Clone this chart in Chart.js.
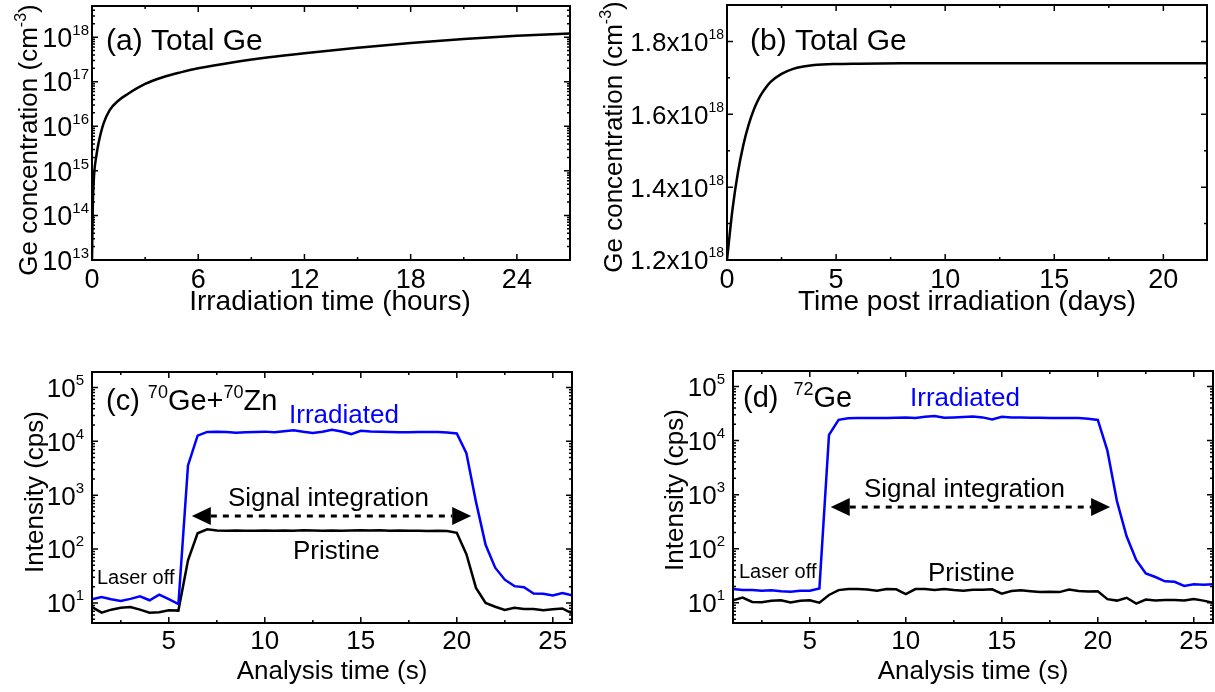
<!DOCTYPE html>
<html>
<head>
<meta charset="utf-8">
<title>Ge concentration and LA-ICP-MS signals</title>
<script src="https://cdn.jsdelivr.net/npm/chart.js@4.4.1/dist/chart.umd.min.js"></script>
<style>
    body { margin: 0; background: #fff; }
    .panel { position: absolute; left: 0; top: 0; width: 1215px; height: 692px; }
</style>
</head>
<body>
<div class="panel"><canvas id="chartA"></canvas></div>
<div class="panel"><canvas id="chartB"></canvas></div>
<div class="panel"><canvas id="chartC"></canvas></div>
<div class="panel"><canvas id="chartD"></canvas></div>
<script>
// (a) total Ge during irradiation
const irradHours = [0, 0.05, 0.1, 0.14, 0.24, 0.37, 0.65, 1, 1.5, 2, 3, 4, 5, 6, 8, 10, 12, 15, 18, 21, 24, 27];
const geDuringIrrad = [1e13, 2e14, 6e14, 1.05e15, 2.1e15, 4.2e15, 1.15e16, 2.3e16, 3.8e16, 5.25e16, 8.9e16, 1.26e17,
    1.62e17, 2.0e17, 2.75e17, 3.55e17, 4.37e17, 5.75e17, 7.41e17, 9.12e17, 1.07e18, 1.2e18];

// (b) total Ge after irradiation
const postDays = [0, 0.25, 0.5, 0.75, 1, 1.25, 1.5, 1.75, 2, 2.5, 3, 3.5, 4, 5, 6, 8, 12, 16, 22];
const geAfterIrrad = [1.2e18, 1.338e18, 1.44e18, 1.516e18, 1.573e18, 1.616e18, 1.648e18, 1.671e18, 1.689e18, 1.711e18,
    1.724e18, 1.731e18, 1.735e18, 1.738e18, 1.739e18, 1.74e18, 1.74e18, 1.74e18, 1.74e18];

// (c), (d) analysis time (s)
const analysisTime = [1, 1.5, 2, 2.5, 3, 3.5, 4, 4.5, 5, 5.5, 6, 6.5, 7, 7.5, 8, 8.5, 9, 9.5, 10, 10.5, 11, 11.5, 12,
    12.5, 13, 13.5, 14, 14.5, 15, 15.5, 16, 16.5, 17, 17.5, 18, 18.5, 19, 19.5, 20, 20.5, 21, 21.5, 22, 22.5, 23,
    23.5, 24, 24.5, 25, 25.5, 26];

// (c) 70Ge + 70Zn
const ge70Irradiated = [11.7, 12.9, 11.7, 10.9, 11.9, 13.3, 11.2, 14.3, 11.7, 9.5, 3560, 12700, 14900, 15000, 14800,
    14400, 14700, 14900, 15100, 14700, 15300, 16000, 15000, 14300, 15000, 16400, 15200, 13600, 15600, 15200, 15000,
    14800, 14700, 14700, 14800, 14900, 14900, 14500, 14000, 6000, 750, 120, 45, 27, 20.5, 19.5, 15, 14.8, 13.7, 15.2, 13.8];
const ge70Pristine = [8.4, 6.6, 7.5, 8.1, 8.4, 7.5, 6.6, 6.7, 7.3, 7.2, 62, 196, 233, 220, 218, 220, 219, 218, 220,
    218, 221, 219, 222, 220, 218, 221, 219, 220, 222, 220, 222, 219, 221, 219, 218, 217, 218, 216, 200, 80, 19, 10,
    8.5, 7.4, 8.1, 7.7, 7.7, 7.3, 7.6, 7.9, 6.4];

// (d) 72Ge
const ge72Irradiated = [18, 17.3, 17.3, 16.7, 17, 16.4, 16, 16.7, 16.7, 18.5, 12700, 24200, 25900, 26200, 26100, 26000,
    26100, 26300, 26600, 26200, 27500, 28500, 26500, 26800, 27300, 27800, 26800, 24500, 27400, 26700, 26800, 26500,
    26300, 26200, 26000, 26200, 26000, 25300, 24000, 6500, 750, 170, 62, 35, 30, 25, 24.5, 20.5, 22, 21.5, 22];
const ge72Pristine = [11.2, 12.5, 10.4, 10.3, 10.9, 11.2, 10.2, 10.9, 11.2, 10.1, 14, 17.2, 18, 18, 17.6, 16.7, 18,
    17.8, 14.5, 18, 18, 17.3, 18, 17.2, 16.8, 17.5, 17.4, 17.8, 14.8, 16.6, 17, 16.4, 15.8, 16, 15.8, 17.6, 16.5,
    16.2, 16.3, 11.7, 11, 12.4, 9.7, 11.5, 11, 11.3, 11.3, 11, 11.8, 11, 10];

// Tick values
const hourTicks = [0, 6, 12, 18, 24];
const hourMinor = [3, 9, 15, 21];
const dayTicks = [0, 5, 10, 15, 20];
const dayMinor = [2.5, 7.5, 12.5, 17.5];
const concTicks = [1.2e18, 1.4e18, 1.6e18, 1.8e18];
const concMinor = [1.3e18, 1.5e18, 1.7e18];
const secTicks = [5, 10, 15, 20, 25];
const secMinor = [2.5, 7.5, 12.5, 17.5, 22.5];

const W = 1215, H = 692;
const FONT = "'Liberation Sans', Arial, Helvetica, sans-serif";
const BLUE = '#0000ff';
const font = size => `${size}px ${FONT}`;

// log minor ticks (2..9 x 10^n) inside [min, max]
function logMinor(min, max) {
    const out = [];
    for (let e = Math.floor(Math.log10(min)); e <= Math.ceil(Math.log10(max)); e++) {
        for (let m = 2; m <= 9; m++) {
            const v = m * Math.pow(10, e);
            if (v > min && v < max) out.push(v);
        }
    }
    return out;
}
function powers(lo, hi) {
    const out = [];
    for (let e = lo; e <= hi; e++) out.push(Math.pow(10, e));
    return out;
}

// text runs with superscripts
function runsWidth(ctx, runs) {
    let w = 0;
    runs.forEach(r => {
        ctx.font = font(r.size);
        w += ctx.measureText(r.text).width + (r.dx || 0);
    });
    return w;
}
function drawRuns(ctx, runs, x, y, align) {
    const w = runsWidth(ctx, runs);
    let cx = align === 'right' ? x - w : align === 'center' ? x - w / 2 : x;
    ctx.textAlign = 'left';
    ctx.textBaseline = 'alphabetic';
    runs.forEach(r => {
        ctx.font = font(r.size);
        ctx.fillStyle = r.color || '#000';
        cx += r.dx || 0;
        ctx.fillText(r.text, cx, y - (r.rise || 0));
        cx += ctx.measureText(r.text).width;
    });
}
const pow10Label = (mant, exp, size, expSize) => [
    { text: mant + '10', size: size },
    { text: String(exp), size: expSize, rise: Math.round(size * 0.45) }
];

function drawArrow(ctx, x1, x2, y) {
    const head = 19, half = 9;
    ctx.save();
    ctx.strokeStyle = '#000';
    ctx.fillStyle = '#000';
    ctx.lineWidth = 3;
    ctx.setLineDash([6, 6]);
    ctx.beginPath();
    ctx.moveTo(x1 + head, y);
    ctx.lineTo(x2 - head, y);
    ctx.stroke();
    ctx.setLineDash([]);
    ctx.beginPath();
    ctx.moveTo(x1, y); ctx.lineTo(x1 + head, y - half); ctx.lineTo(x1 + head, y + half); ctx.closePath();
    ctx.moveTo(x2, y); ctx.lineTo(x2 - head, y - half); ctx.lineTo(x2 - head, y + half); ctx.closePath();
    ctx.fill();
    ctx.restore();
}

// MATLAB style box axes: inward ticks on all sides, labels, titles, notes
function framePlugin(cfg) {
    return {
        id: 'frame',
        afterDraw(chart) {
            const ctx = chart.ctx;
            const xs = chart.scales.x, ys = chart.scales.y;
            const { left, top, right, bottom } = chart.chartArea;
            ctx.save();
            ctx.strokeStyle = '#000';
            ctx.lineWidth = 1.5;
            ctx.beginPath();
            const xTick = (v, len) => {
                const px = xs.getPixelForValue(v);
                ctx.moveTo(px, bottom); ctx.lineTo(px, bottom - len);
                ctx.moveTo(px, top); ctx.lineTo(px, top + len);
            };
            const yTick = (v, len) => {
                const py = ys.getPixelForValue(v);
                ctx.moveTo(left, py); ctx.lineTo(left + len, py);
                ctx.moveTo(right, py); ctx.lineTo(right - len, py);
            };
            cfg.xMajor.forEach(v => xTick(v, 6));
            cfg.xMinor.forEach(v => xTick(v, 3));
            cfg.yMajor.forEach(v => yTick(v, 6));
            cfg.yMinor.forEach(v => yTick(v, 3));
            ctx.stroke();
            ctx.lineWidth = 2;
            ctx.strokeRect(left, top, right - left, bottom - top);

            // tick labels
            ctx.fillStyle = '#000';
            cfg.xMajor.forEach(v => {
                drawRuns(ctx, [{ text: String(v), size: cfg.tickSize }], xs.getPixelForValue(v), cfg.xLabelY, 'center');
            });
            cfg.yMajor.forEach(v => {
                const py = ys.getPixelForValue(v);
                drawRuns(ctx, cfg.yLabel(v), left - cfg.yLabelGap, py + cfg.yTickSize * 0.36, 'right');
            });

            // axis titles
            drawRuns(ctx, [{ text: cfg.xTitle, size: cfg.titleSize }], cfg.xTitleX, cfg.xTitleY, 'center');
            ctx.save();
            ctx.translate(cfg.yTitleX, cfg.yTitleY);
            ctx.rotate(-Math.PI / 2);
            drawRuns(ctx, cfg.yTitle, 0, 0, 'center');
            ctx.restore();

            // annotations
            (cfg.notes || []).forEach(n => drawRuns(ctx, n.runs, n.x, n.y, 'left'));
            if (cfg.arrow) {
                const a = cfg.arrow;
                drawArrow(ctx, xs.getPixelForValue(a.from), xs.getPixelForValue(a.to), ys.getPixelForValue(a.at));
            }
            ctx.restore();
        }
    };
}

function makeChart(id, box, xScale, yScale, datasets, frame) {
    return new Chart(document.getElementById(id), {
        type: 'line',
        data: { datasets: datasets },
        options: {
            responsive: true,
            maintainAspectRatio: false,
            animation: false,
            events: [],
            layout: { padding: { left: box.l, top: box.t, right: W - box.r, bottom: H - box.b } },
            plugins: { legend: { display: false }, tooltip: { enabled: false } },
            scales: {
                x: Object.assign({ type: 'linear', display: false }, xScale),
                y: Object.assign({ display: false }, yScale)
            }
        },
        plugins: [framePlugin(frame)]
    });
}

const series = (xs, ys, color, smooth) => ({
    data: xs.map((x, i) => ({ x: x, y: ys[i] })),
    borderColor: color,
    borderWidth: 2.5,
    pointRadius: 0,
    fill: false,
    tension: 0,
    cubicInterpolationMode: smooth ? 'monotone' : 'default'
});

const concTitle = [
    { text: 'Ge concentration (cm', size: 26 },
    { text: '-3', size: 16, rise: 11 },
    { text: ')', size: 26 }
];

// (a)
makeChart('chartA', { l: 92, t: 6, r: 570, b: 260 },
    { min: 0, max: 27 },
    { type: 'logarithmic', min: 1e13, max: 5e18 },
    [series(irradHours, geDuringIrrad, '#000', true)],
    {
        xMajor: hourTicks, xMinor: hourMinor,
        yMajor: powers(13, 18), yMinor: logMinor(1e13, 5e18),
        tickSize: 27, yTickSize: 27, xLabelY: 288, yLabelGap: 3,
        yLabel: v => pow10Label('', Math.round(Math.log10(v)), 27, 15),
        titleSize: 28, xTitle: 'Irradiation time (hours)', xTitleX: 330, xTitleY: 310,
        yTitle: concTitle, yTitleX: 37, yTitleY: 140,
        notes: [{ runs: [{ text: '(a) Total Ge', size: 30 }], x: 106, y: 50 }]
    });

// (b)
makeChart('chartB', { l: 727, t: 5, r: 1207, b: 260 },
    { min: 0, max: 22 },
    { type: 'linear', min: 1.2e18, max: 1.9e18 },
    [series(postDays, geAfterIrrad, '#000', true)],
    {
        xMajor: dayTicks, xMinor: dayMinor,
        yMajor: concTicks, yMinor: concMinor,
        tickSize: 27, yTickSize: 26, xLabelY: 288, yLabelGap: 3,
        yLabel: v => pow10Label((v / 1e18).toFixed(1) + 'x', 18, 26, 14),
        titleSize: 28, xTitle: 'Time post irradiation (days)', xTitleX: 967, xTitleY: 310,
        yTitle: concTitle, yTitleX: 622, yTitleY: 137,
        notes: [{ runs: [{ text: '(b) Total Ge', size: 30 }], x: 750, y: 50 }]
    });

// (c)
makeChart('chartC', { l: 92, t: 372, r: 572, b: 623 },
    { min: 1, max: 26 },
    { type: 'logarithmic', min: 4.24, max: 1.93e5 },
    [series(analysisTime, ge70Irradiated, BLUE, false), series(analysisTime, ge70Pristine, '#000', false)],
    {
        xMajor: secTicks, xMinor: secMinor,
        yMajor: powers(1, 5), yMinor: logMinor(4.24, 1.93e5),
        tickSize: 26, yTickSize: 26, xLabelY: 649, yLabelGap: 8,
        yLabel: v => pow10Label('', Math.round(Math.log10(v)), 26, 15),
        titleSize: 26, xTitle: 'Analysis time (s)', xTitleX: 332, xTitleY: 679,
        yTitle: [{ text: 'Intensity (cps)', size: 26 }], yTitleX: 43, yTitleY: 492,
        notes: [
            { runs: [{ text: '(c) ', size: 29 }, { text: '70', size: 18, rise: 12 }, { text: 'Ge+', size: 29 },
                { text: '70', size: 18, rise: 12 }, { text: 'Zn', size: 29 }], x: 106, y: 410 },
            { runs: [{ text: 'Irradiated', size: 26, color: BLUE }], x: 289, y: 423 },
            { runs: [{ text: 'Signal integration', size: 26 }], x: 228, y: 506 },
            { runs: [{ text: 'Pristine', size: 26 }], x: 293, y: 559 },
            { runs: [{ text: 'Laser off', size: 20 }], x: 97, y: 584 }
        ],
        arrow: { from: 6.2, to: 20.75, at: 410 }
    });

// (d)
makeChart('chartD', { l: 733, t: 371, r: 1213, b: 623 },
    { min: 1, max: 26 },
    { type: 'logarithmic', min: 4.24, max: 1.93e5 },
    [series(analysisTime, ge72Irradiated, BLUE, false), series(analysisTime, ge72Pristine, '#000', false)],
    {
        xMajor: secTicks, xMinor: secMinor,
        yMajor: powers(1, 5), yMinor: logMinor(4.24, 1.93e5),
        tickSize: 26, yTickSize: 26, xLabelY: 649, yLabelGap: 8,
        yLabel: v => pow10Label('', Math.round(Math.log10(v)), 26, 15),
        titleSize: 26, xTitle: 'Analysis time (s)', xTitleX: 973, xTitleY: 679,
        yTitle: [{ text: 'Intensity (cps)', size: 26 }], yTitleX: 683, yTitleY: 490,
        notes: [
            { runs: [{ text: '(d) ', size: 29 }, { text: '72', size: 18, rise: 12, dx: 7 }, { text: 'Ge', size: 29 }],
                x: 743, y: 407 },
            { runs: [{ text: 'Irradiated', size: 26, color: BLUE }], x: 910, y: 406 },
            { runs: [{ text: 'Signal integration', size: 26 }], x: 864, y: 497 },
            { runs: [{ text: 'Pristine', size: 26 }], x: 928, y: 581 },
            { runs: [{ text: 'Laser off', size: 20 }], x: 739, y: 578 }
        ],
        arrow: { from: 6.09, to: 20.64, at: 590 }
    });
</script>
</body>
</html>
